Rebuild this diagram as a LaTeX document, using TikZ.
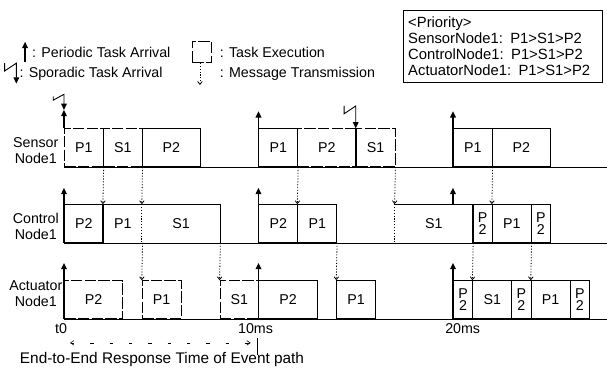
\documentclass[tikz,border=0pt]{standalone}
\usepackage{fontspec}
\setmainfont{Liberation Sans}
\usetikzlibrary{arrows.meta}

\tikzset{
  task/.style={draw, anchor=south west, inner sep=0pt, minimum height=1.17cm},
  w1/.style={minimum width=0.6cm},
  w2/.style={minimum width=1.2cm},
  w3/.style={minimum width=1.8cm},
  w4/.style={minimum width=2.4cm},
  faint/.style={dash pattern=on 10pt off 2pt},
  twoline/.style={align=center, font=\fontsize{12.5}{11}\selectfont},
  arrival/.style={line width=1.1pt, -{Triangle[length=5.5pt,width=5pt]}},
  sporadic/.style={line width=0.8pt, -{Triangle[length=5.5pt,width=5pt]}},
  msg/.style={dash pattern=on 1pt off 1.5pt, -{Straight Barb[length=2.5pt,width=4pt]}},
  dotline/.style={dash pattern=on 1pt off 1.5pt},
  resp/.style={line width=0.5pt, dash pattern=on 3pt off 14pt,
    {Straight Barb[length=3pt,width=4pt]}-{Straight Barb[length=3pt,width=4pt]}},
}

\begin{document}
\begin{tikzpicture}[x=0.6cm, y=0.6cm, line width=0.7pt, font=\fontsize{12.5}{13.5}\selectfont]
      \useasboundingbox (-3.29,-2.83) rectangle (27.92,16.40);

      \draw[arrival] (-2.0,13.2) -- (-2.0,14.25);
      \node[anchor=west] (lper) at (-1.85,13.73) {: Periodic Task Arrival};
      \draw[sporadic] (-3.05,13.15) -- (-3.05,12.75) -- (-2.45,13.15) -- (-2.45,12.1);
      \node[anchor=west] (lspo) at (-2.5,12.6) {: Sporadic Task Arrival};
      \draw[faint] (6.58,13.21) rectangle (7.56,14.29);
      \node[anchor=west] (lexe) at (7.8,13.73) {: Task Execution};
      \draw[msg] (6.99,13.16) -- (6.99,12.03);
      \node[anchor=west] (lmsg) at (7.8,12.6) {: Message Transmission};

      \node[draw, anchor=north west, minimum width=6.14cm, minimum height=2.22cm,
            text width=5.84cm, inner xsep=0.15cm, align=left,
            font=\fontsize{13}{14}\selectfont] (prio) at (17.43,15.89)
            {<Priority>\\SensorNode1: P1>S1>P2\\ControlNode1: P1>S1>P2\\ActuatorNode1: P1>S1>P2};

      \node[align=center] (sensor) at (-1.45,8.66) {Sensor\\Node1};
      \node[align=center] (control) at (-1.45,4.75) {Control\\Node1};
      \node[align=center] (actuator) at (-1.45,1.3) {Actuator\\Node1};

      \draw (0,7.81) -- (27.9,7.81);
      \draw (0,3.91) -- (27.9,3.91);
      \draw (0,0) -- (27.9,0);

      \node[task,w2,faint] (sP1a) at (0,7.81) {P1};
      \node[task,w2,faint] (sS1a) at (2,7.81) {S1};
      \node[task,w3] (sP2a) at (4,7.81) {P2};
      \node[task,w2] (sP1b) at (10,7.81) {P1};
      \node[task,w3,faint] (sP2b) at (12,7.81) {P2};
      \node[task,w2,faint] (sS1b) at (15,7.81) {S1};
      \node[task,w2] (sP1c) at (20,7.81) {P1};
      \node[task,w3] (sP2c) at (22,7.81) {P2};

      \node[task,w2] (cP2a) at (0,3.91) {P2};
      \node[task,w2,draw=none] (cP1a) at (2,3.91) {P1};
      \node[task,w4,draw=none] (cS1a) at (4,3.91) {S1};
      \node[task,w2] (cP2b) at (10,3.91) {P2};
      \node[task,w2] (cP1b) at (12,3.91) {P1};
      \node[task,w4,draw=none] (cS1b) at (17,3.91) {S1};
      \node[task,w1,twoline] (cP2c) at (21,3.91) {P\\2};
      \node[task,w2] (cP1c) at (22,3.91) {P1};
      \node[task,w1,twoline] (cP2d) at (24,3.91) {P\\2};
      \draw (cP1a.north east) -| (cP1a.south west) -- (cP1a.south east);
      \draw (cS1a.north west) -| (cS1a.south east) -- (cS1a.south west);
      \draw[dotline] (cS1a.north west) -- (cS1a.south west);
      \draw (cS1b.north west) -| (cS1b.south east) -- (cS1b.south west);
      \draw[dotline] (cS1b.north west) -- (cS1b.south west);

      \node[task,w3,faint] (aP2a) at (0,0) {P2};
      \node[task,w2,faint] (aP1a) at (4,0) {P1};
      \node[task,w2,faint] (aS1a) at (8,0) {S1};
      \node[task,w3] (aP2b) at (10,0) {P2};
      \node[task,w2] (aP1b) at (14,0) {P1};
      \node[task,w1,twoline] (aP2c) at (20,0) {P\\2};
      \node[task,w2] (aS1b) at (21,0) {S1};
      \node[task,w1,twoline] (aP2d) at (23,0) {P\\2};
      \node[task,w2] (aP1c) at (24,0) {P1};
      \node[task,w1,twoline] (aP2e) at (26,0) {P\\2};

      \draw[arrival] (sP1a.north west) -- (0,10.75);
      \draw[sporadic] (-0.55,11.45) -- (-0.55,11.25) -- (0,11.55) -- (0,10.75);
      \draw[arrival] (sP1b.south west) -- (10,10.68);
      \draw[sporadic] (14.4,10.95) -- (14.4,10.55) -- (15,10.95) -- (sS1b.north west);
      \draw (sS1b.north west) -- (sS1b.south west);
      \draw[arrival] (sP1c.south west) -- (20,10.68);

      \draw[arrival] (cP2a.south west) -- (0,6.74);
      \draw[arrival] (cP2b.south west) -- (10,6.74);
      \draw[arrival] (20,5.86) -- (20,6.74);

      \draw[arrival] (aP2a.south west) -- (0,2.88);
      \draw[arrival] (aP2b.south west) -- (10,2.88);
      \draw[arrival] (aP2c.south west) -- (20,2.88);

      \draw[msg] (sP1a.south east) -- (cP1a.north west);
      \draw[msg] (sS1a.south east) -- (cS1a.north west);
      \draw[msg] (sP1b.south east) -- (cP1b.north west);
      \draw[msg] (sS1b.south east) -- (cS1b.north west);
      \draw[msg] (sP1c.south east) -- (cP1c.north west);

      \draw[msg] (cP1a.south east) -- (aP1a.north west);
      \draw[msg] (cS1a.south east) -- (aS1a.north west);
      \draw[msg] (cP1b.south east) -- (aP1b.north west);
      \draw[msg] (cS1b.south east) -- (aS1b.north west);
      \draw[msg] (cP1c.south east) -- (aP1c.north west);

      \node (t0) at (-0.15,-0.51) {t0};
      \node (t10) at (9.85,-0.51) {10ms};
      \node (t20) at (20.5,-0.51) {20ms};

      \coordinate (rtA) at (0.31,-1.23);
      \coordinate (rtB) at (9.6,-1.23);
      \coordinate (barT) at (9.97,-0.98);
      \coordinate (barB) at (9.97,-1.85);
      \draw[resp] (rtA) -- (rtB);
      \draw (barT) -- (barB);
      \node[font=\fontsize{13.5}{14}\selectfont] (rtext) at (5.04,-2.11)
            {End-to-End Response Time of Event path};
    \end{tikzpicture}
\end{document}
